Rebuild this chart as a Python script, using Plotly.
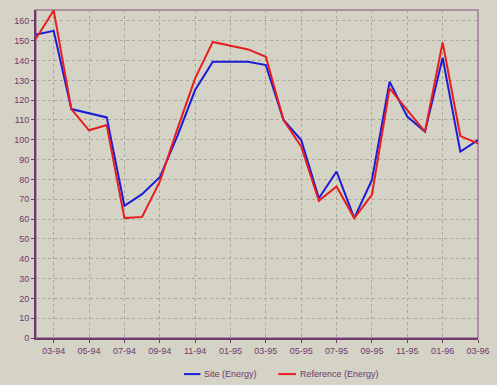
import plotly.graph_objects as go

months = ["02-94", "03-94", "04-94", "05-94", "06-94", "07-94", "08-94", "09-94",
          "10-94", "11-94", "12-94", "01-95", "02-95", "03-95", "04-95", "05-95",
          "06-95", "07-95", "08-95", "09-95", "10-95", "11-95", "12-95", "01-96",
          "02-96", "03-96"]

site_energy = [153.1, 155.0, 115.5, 113.5, 111.3, 66.7, 72.6, 81.1, 102.0, 125.1,
               139.4, 139.4, 139.4, 137.7, 110.0, 99.9, 70.5, 84.0, 60.5, 79.8,
               129.3, 111.7, 104.1, 141.4, 94.0, 99.9]

reference_energy = [151.1, 165.3, 115.5, 104.8, 107.5, 60.5, 61.1, 78.9, 105.5, 131.0,
                    149.4, 147.4, 145.6, 141.9, 110.0, 96.6, 69.2, 76.4, 60.5, 72.2,
                    125.9, 115.0, 104.1, 149.1, 101.9, 98.2]

tick_labels = months[1::2]
y_ticks = list(range(0, 170, 10))

BG = "#d5d2c6"
PURPLE = "#6e3a6e"
FRAME = "#a27a98"
GRID = "#aba79d"
FONT = "Liberation Sans, Arial, sans-serif"

fig = go.Figure()
fig.add_trace(go.Scatter(x=months, y=site_energy, mode="lines", name="Site (Energy)",
                         line=dict(color="#1c1cd8", width=2), cliponaxis=True))
fig.add_trace(go.Scatter(x=months, y=reference_energy, mode="lines", name="Reference (Energy)",
                         line=dict(color="#e61e1e", width=2), cliponaxis=True))

# frame around plot area (top/right thin border)
fig.add_shape(type="rect", xref="paper", yref="paper", x0=0, x1=1, y0=0, y1=1,
              line=dict(color=FRAME, width=1.5), layer="below")

# custom legend
leg_y = -0.11
fig.add_shape(type="line", xref="paper", yref="paper", x0=0.335, x1=0.372, y0=leg_y, y1=leg_y,
              line=dict(color="#1c1cd8", width=2))
fig.add_annotation(xref="paper", yref="paper", x=0.376, y=leg_y, text="Site (Energy)",
                   showarrow=False, xanchor="left", yanchor="middle",
                   font=dict(family=FONT, size=9, color=PURPLE))
fig.add_shape(type="line", xref="paper", yref="paper", x0=0.548, x1=0.588, y0=leg_y, y1=leg_y,
              line=dict(color="#e61e1e", width=2))
fig.add_annotation(xref="paper", yref="paper", x=0.592, y=leg_y, text="Reference (Energy)",
                   showarrow=False, xanchor="left", yanchor="middle",
                   font=dict(family=FONT, size=9, color=PURPLE))

fig.update_layout(
    width=497, height=385,
    margin=dict(l=36, r=7, t=10, b=47),
    paper_bgcolor=BG, plot_bgcolor=BG,
    showlegend=False,
    font=dict(family=FONT, size=9, color=PURPLE),
)
fig.update_xaxes(
    type="category", categoryorder="array", categoryarray=months,
    range=[0, 25],
    tickmode="array", tickvals=tick_labels, ticktext=tick_labels,
    showgrid=True, gridcolor=GRID, gridwidth=1, griddash="3px,3px",
    showline=True, linecolor=PURPLE, linewidth=2,
    ticks="outside", ticklen=3, tickcolor=PURPLE,
    tickfont=dict(family=FONT, size=9, color=PURPLE),
    zeroline=False,
)
fig.update_yaxes(
    range=[0, 165.5],
    tickmode="array", tickvals=y_ticks,
    showgrid=True, gridcolor=GRID, gridwidth=1, griddash="3px,3px",
    showline=True, linecolor=PURPLE, linewidth=2,
    ticks="outside", ticklen=3, tickcolor=PURPLE,
    tickfont=dict(family=FONT, size=9, color=PURPLE),
    zeroline=False,
)

fig.write_html("out.html",
               config={"displayModeBar": False},
               post_script="document.body.style.margin='0px';document.body.style.background='" + BG + "';")
